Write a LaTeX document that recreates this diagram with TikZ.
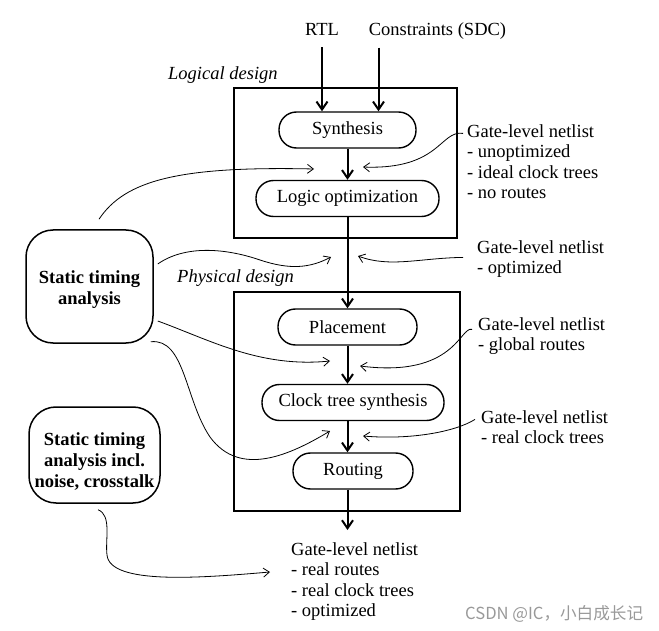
\documentclass[tikz,border=0pt]{standalone}
\usepackage{fontspec}
\setmainfont{Liberation Serif}
\newfontfamily\cjk{Noto Sans CJK SC}
\usetikzlibrary{arrows.meta}

\begin{document}
\begin{tikzpicture}[x=1pt, y=-1pt,
    every node/.style={font=\fontsize{18.5}{20.5}\selectfont, inner sep=0pt},
    stage/.style={draw, line width=1.4pt, rounded corners=17.5pt, minimum height=36pt},
    frame/.style={draw, line width=2.4pt},
    sta/.style={draw, line width=1.5pt, rounded corners=27pt, align=center,
        font=\fontsize{18.5}{21}\selectfont\bfseries},
    info/.style={anchor=north west, align=left},
    phase/.style={anchor=base west, font=\fontsize{18.5}{20.5}\selectfont\itshape},
    flow/.style={-{Straight Barb[length=8pt, width=11pt]}, line width=2pt},
    hint/.style={-{Straight Barb[length=6pt, width=9pt]}, line width=0.8pt}]
        \useasboundingbox (0,0) rectangle (659,631);

        \node[frame, minimum width=223pt, minimum height=150pt] (logbox) at (345.5,163) {};
        \node[frame, minimum width=226pt, minimum height=219pt] (physbox) at (347,401.5) {};
        \node[phase] (logname) at (168,80) {Logical design};
        \node[phase] (physname) at (177,283) {Physical design};

        \node[inner ysep=11pt, anchor=base] (rtl) at (322,36) {RTL};
        \node[inner ysep=7.5pt, anchor=base] (sdc) at (437.5,36) {Constraints (SDC)};

        \node[stage, minimum width=137pt] (syn) at (347.5,130) {Synthesis};
        \node[stage, minimum width=183pt] (lopt) at (347.5,198.5) {Logic optimization};
        \node[stage, minimum width=139pt] (place) at (347.5,327) {Placement};
        \node[stage, minimum width=182pt] (cts) at (353,402.5) {Clock tree synthesis};
        \node[stage, minimum width=120pt] (route) at (353,471) {Routing};

        \node[sta, minimum width=127pt, minimum height=113pt] (sta) at (89.5,286.5) {\rule{0pt}{18pt}Static timing\\analysis};
        \node[sta, minimum width=131pt, minimum height=96pt] (stanoise) at (94.5,455) {\rule{0pt}{26pt}Static timing\\analysis incl.\\noise, crosstalk};

        \node[info] (gl1) at (467,124.4) {Gate-level netlist\\- unoptimized\\- ideal clock trees\\- no routes};
        \node[info] (gl2) at (477,240.4) {Gate-level netlist\\- optimized};
        \node[info] (gl3) at (478,317.4) {Gate-level netlist\\- global routes};
        \node[info] (gl4) at (481,410.4) {Gate-level netlist\\- real clock trees};
        \node[info] (out) at (291,542.4) {Gate-level netlist\\- real routes\\- real clock trees\\- optimized};

        \node[font=\cjk\fontsize{16.6}{16.6}\selectfont, text=black!40, anchor=base west] (mark) at (465,619) {CSDN @IC，小白成长记};

        \coordinate (netout) at (347.5,530);
        \coordinate (t1) at (363,167);
        \coordinate (t2) at (358,256);
        \coordinate (t3) at (360,366);
        \coordinate (t4) at (363,436);
        \coordinate (s1) at (314,169);
        \coordinate (s2) at (331,257);
        \coordinate (s3) at (330,361);
        \coordinate (s4) at (330,431);
        \coordinate (s5) at (270,572);

        \draw[flow] (rtl) -- (rtl |- syn.north);
        \draw[flow] ([xshift=-59pt]sdc.south) -- ([xshift=-59pt]sdc.south |- syn.north);
        \draw[flow] (syn) -- (lopt);
        \draw[flow] (lopt) -- (place);
        \draw[flow] (place.south) -- (place.south |- cts.north);
        \draw[flow] (place.south |- cts.south) -- (place.south |- route.north);
        \draw[flow] (place.south |- route.south) -- (netout);

        \draw[hint] ([shift={(-4,9)}]gl1.north west) .. controls (440,130) and (440,170) .. (t1);
        \draw[hint] ([shift={(-14,17)}]gl2.north west) .. controls (420,258) and (390,268) .. (t2);
        \draw[hint] ([shift={(-6,12)}]gl3.north west) .. controls (460,326) and (455,378) .. (t3);
        \draw[hint] ([shift={(-6,9)}]gl4.north west) .. controls (455,432) and (410,440) .. (t4);

        \draw[hint] ([shift={(9.5,-10)}]sta.north) .. controls (125,180) and (180,166) .. (s1);
        \draw[hint] ([shift={(4,-22.5)}]sta.east) .. controls (185,245) and (225,248) .. (260,260)
            .. controls (290,270) and (310,268) .. (s2);
        \draw[hint] ([shift={(4,34.5)}]sta.east) .. controls (210,340) and (260,368) .. (s3);
        \draw[hint] ([shift={(-3,-2)}]sta.south east) .. controls (185,338) and (185,400) .. (210,437)
            .. controls (240,478) and (290,455) .. (s4);
        \draw[hint] ([shift={(3.5,6)}]stanoise.south) .. controls (112,515) and (105,540) .. (107,555)
            .. controls (110,585) and (200,578) .. (s5);
      \end{tikzpicture}
\end{document}
